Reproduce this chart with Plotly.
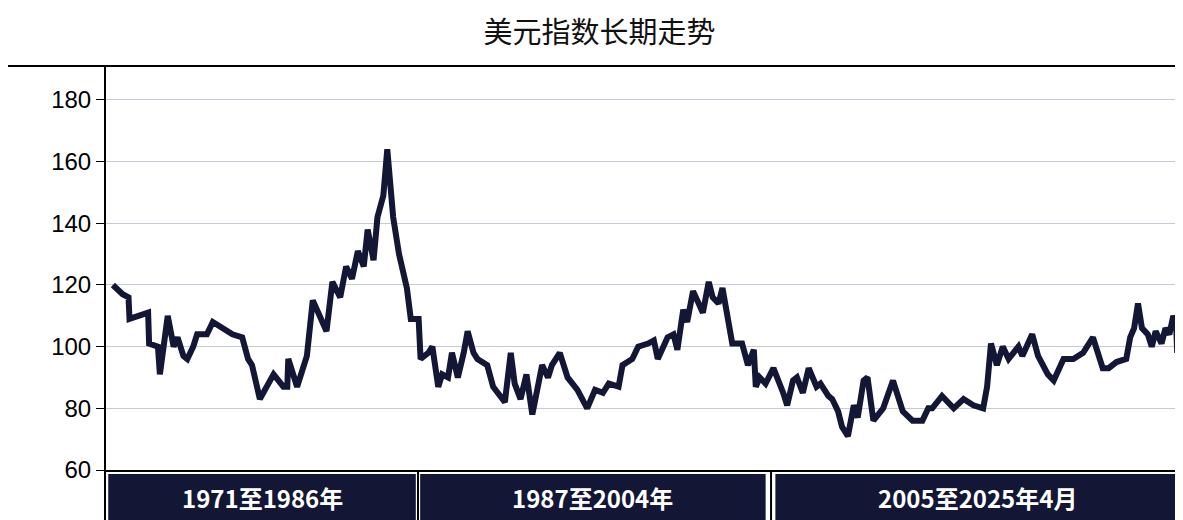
import plotly.graph_objects as go

years = [1971.0, 1971.5, 1971.8, 1971.85, 1972.8, 1972.85, 1973.3, 1973.4, 1973.8, 1974.1, 1974.3, 1974.6, 1974.8, 1975.1,
         1975.3, 1975.8, 1976.1, 1977.1, 1977.6, 1977.9, 1978.1, 1978.5, 1979.2, 1979.7, 1979.9, 1979.95, 1980.4, 1980.7,
         1980.9, 1981.2, 1981.9, 1982.2, 1982.6, 1982.9, 1983.2, 1983.5, 1983.8, 1984.0, 1984.3, 1984.5, 1984.8, 1985.0,
         1985.3, 1985.6, 1986.0, 1986.2, 1986.6, 1986.7, 1987.1, 1987.3, 1987.6, 1987.8, 1988.1, 1988.3, 1988.6, 1988.9,
         1989.1, 1989.4, 1989.6, 1990.1, 1990.4, 1991.0, 1991.3, 1991.5, 1991.8, 1992.1, 1992.4, 1992.9, 1993.2, 1993.4,
         1993.8, 1994.2, 1994.7, 1995.2, 1995.6, 1996.0, 1996.3, 1996.8, 1997.0, 1997.5, 1997.8, 1998.3, 1998.6, 1998.8,
         1999.3, 1999.6, 1999.8, 2000.1, 2000.3, 2000.6, 2000.8, 2001.1, 2001.4, 2001.6, 2001.9, 2002.1, 2002.6, 2003.1,
         2003.4, 2003.7, 2003.8, 2004.0, 2004.3, 2004.7, 2005.2, 2005.4, 2005.7, 2005.9, 2006.2, 2006.5, 2006.9, 2007.1,
         2007.5, 2007.7, 2008.0, 2008.2, 2008.5, 2008.8, 2009.0, 2009.3, 2009.5, 2009.8, 2010.3, 2010.8, 2011.3, 2011.8,
         2012.3, 2012.6, 2012.8, 2013.3, 2013.9, 2014.4, 2014.9, 2015.4, 2015.6, 2015.8, 2016.1, 2016.4, 2016.7, 2017.2,
         2017.4, 2017.9, 2018.2, 2018.7, 2019.0, 2019.5, 2020.0, 2020.5, 2021.0, 2021.3, 2021.5, 2021.8, 2022.2, 2022.7,
         2022.9, 2023.1, 2023.3, 2023.5, 2023.8, 2024.0, 2024.2, 2024.5, 2024.7, 2024.9, 2025.1, 2025.25, 2025.3]
dxy = [120, 117, 116, 109, 111, 101, 100, 91, 110, 100, 103, 97, 96, 100,
       104, 104, 108, 104, 103, 96, 94, 83, 91, 87, 87, 96, 87, 94,
       97, 115, 105, 121, 116, 126, 122, 131, 126, 138, 128, 142, 149, 164,
       142, 130, 119, 109, 109, 96, 98, 100, 87, 91, 90, 98, 90, 98,
       105, 98, 96, 94, 87, 82, 98, 88, 83, 91, 78, 94, 90, 94,
       98, 90, 86, 80, 86, 85, 88, 87, 94, 96, 100, 101, 102, 96,
       103, 104, 99, 112, 108, 118, 115, 111, 121, 116, 114, 119, 101, 101,
       94, 99, 87, 90, 88, 93, 85, 81, 89, 90, 85, 93, 87, 88,
       84, 83, 79, 74, 71, 81, 77, 89, 90, 76, 80, 89, 79, 76,
       76, 80, 80, 84, 80, 83, 81, 80, 87, 101, 94, 100, 96, 100,
       97, 104, 97, 91, 89, 96, 96, 98, 103, 97, 93, 93, 95, 96,
       103, 106, 114, 106, 104, 100, 105, 101, 106, 104, 110, 106, 98]

periods = ["1971至1986年", "1987至2004年", "2005至2025年4月"]
navy = "#131735"

fig = go.Figure()
fig.add_trace(go.Scatter(x=years, y=dxy, mode="lines",
                         line=dict(color=navy, width=6), hoverinfo="x+y"))

# period boxes under the plot (paper coords)
boxes = [(0.003, 0.287), (0.291, 0.61), (0.619, 0.992)]
shapes = []
annotations = []
for (x0, x1), txt in zip(boxes, periods):
    shapes.append(dict(type="rect", xref="paper", yref="paper", x0=x0, x1=x1,
                       y0=-0.124, y1=-0.01, fillcolor=navy, line_width=0, layer="above"))
    annotations.append(dict(xref="paper", yref="paper", x=(x0 + x1) / 2, y=-0.067,
                            xanchor="center", yanchor="middle",
                            text="<b>" + txt + "</b>", showarrow=False,
                            font=dict(color="white", size=24)))
for sx in [0.289, 0.615]:
    shapes.append(dict(type="line", xref="paper", yref="paper", x0=sx, x1=sx,
                       y0=0, y1=-0.15, line=dict(color="black", width=2)))
shapes.append(dict(type="line", xref="paper", yref="paper", x0=-0.09, x1=1.01,
                   y0=1, y1=1, line=dict(color="black", width=2)))
shapes.append(dict(type="line", xref="paper", yref="paper", x0=0, x1=0,
                   y0=1, y1=-0.13, line=dict(color="black", width=2)))

fig.update_layout(
    width=1183, height=520,
    margin=dict(l=97, r=3, t=58, b=58, autoexpand=False),
    paper_bgcolor="white", plot_bgcolor="white",
    font=dict(family="Noto Sans CJK SC, Liberation Sans, Arial", color="black"),
    title=dict(text="美元指数长期走势", x=0.5, y=0.952, xanchor="center", yanchor="middle",
               font=dict(size=29, color="#111")),
    showlegend=False,
    xaxis=dict(range=[1970.6, 2025.85], showticklabels=False, showgrid=False,
               zeroline=False, showline=True, linecolor="black", linewidth=2,
               automargin=False),
    yaxis=dict(range=[60, 191], tickvals=[60, 80, 100, 120, 140, 160, 180],
               showgrid=True, gridcolor="#c5cad6", gridwidth=1, zeroline=False,
               showline=False, ticks="outside", ticklen=8, tickcolor="black",
               automargin=False,
               tickfont=dict(family="Liberation Sans, Arial", size=24)),
    shapes=shapes, annotations=annotations,
)

fig.write_html("out.html")
